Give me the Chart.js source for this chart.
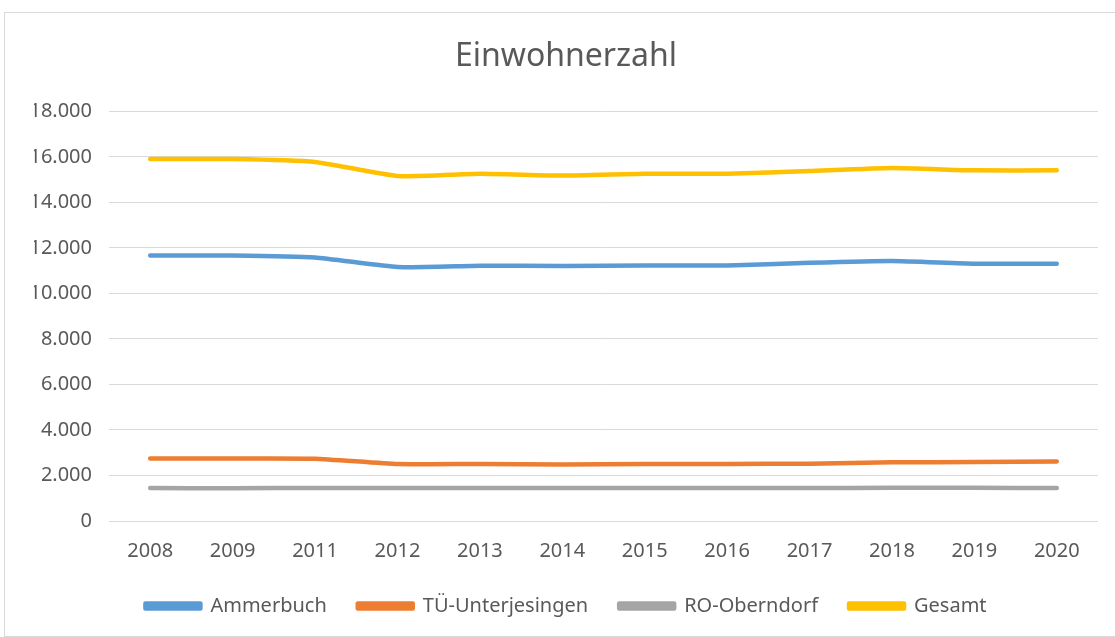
<!DOCTYPE html>
<html lang="de">
<head>
  <meta charset="utf-8">
  <title>Einwohnerzahl</title>
  <script src="https://cdn.jsdelivr.net/npm/chart.js"></script>
  <style>
    html, body {
      margin: 0;
      padding: 0;
      background: #fff;
      overflow: hidden;
    }

    .frame {
      position: absolute;
      left: 4px;
      top: 12px;
      width: 1200px;
      height: 623px;
      border: 1px solid #d9d9d9;
    }

    #chart {
      position: absolute;
      left: 0;
      top: 0;
    }
  </style>
</head>
<body>

<div class="frame"></div>
<canvas id="chart" width="1115" height="637"></canvas>

<script>
  // Jahre (2010 fehlt in der Vorlage)
  const years = ['2008', '2009', '2011', '2012', '2013', '2014', '2015', '2016', '2017', '2018', '2019', '2020'];

  const ammerbuch = [11670, 11670, 11580, 11160, 11220, 11210, 11230, 11230, 11350, 11430, 11310, 11310];
  const unterjesingen = [2750, 2750, 2740, 2500, 2510, 2480, 2500, 2510, 2520, 2580, 2590, 2620];
  const oberndorf = [1450, 1440, 1450, 1450, 1450, 1450, 1450, 1450, 1450, 1460, 1460, 1450];
  const gesamt = [15910, 15910, 15780, 15160, 15260, 15180, 15260, 15260, 15380, 15510, 15410, 15410];

  const yTicks = [0, 2000, 4000, 6000, 8000, 10000, 12000, 14000, 16000, 18000];

  const txt = '#595959';
  const grid = '#d9d9d9';

  function fmt(v) {
    return String(v).replace(/\B(?=(\d{3})+(?!\d))/g, '.');
  }

  function line(label, data, color) {
    return {
      label: label,
      data: data,
      borderColor: color,
      backgroundColor: color,
      borderWidth: 4.5,
      borderCapStyle: 'round',
      borderJoinStyle: 'round',
      pointRadius: 0,
      pointHoverRadius: 0,
      tension: 0.15,
      fill: false
    };
  }

  Chart.defaults.font.family = "'Noto Sans', sans-serif";
  Chart.defaults.color = txt;

  new Chart(document.getElementById('chart'), {
    type: 'line',
    data: {
      labels: years,
      datasets: [
        line('Ammerbuch', ammerbuch, '#5b9bd5'),
        line('TÜ-Unterjesingen', unterjesingen, '#ed7d31'),
        line('RO-Oberndorf', oberndorf, '#a5a5a5'),
        line('Gesamt', gesamt, '#ffc000')
      ]
    },
    options: {
      responsive: false,
      animation: false,
      devicePixelRatio: 1,
      layout: {
        padding: { top: 12, right: 17, bottom: 11, left: 34 }
      },
      plugins: {
        title: {
          display: true,
          text: 'Einwohnerzahl',
          color: txt,
          font: { size: 32, weight: 'normal' },
          padding: { top: 26, bottom: 35 }
        },
        legend: {
          position: 'bottom',
          labels: {
            color: txt,
            font: { size: 20 },
            boxWidth: 55,
            boxHeight: 5,
            padding: 31
          }
        },
        tooltip: { enabled: false }
      },
      scales: {
        x: {
          offset: true,
          grid: { display: false, drawTicks: false },
          border: { display: false },
          ticks: { color: txt, font: { size: 20 }, padding: 18, maxRotation: 0, autoSkip: false },
          afterFit: function (s) { s.height = 44; }
        },
        y: {
          min: 0,
          max: 18000,
          afterBuildTicks: function (s) {
            s.ticks = yTicks.map(v => ({ value: v }));
          },
          grid: { color: grid, lineWidth: 1, drawTicks: false },
          border: { display: false },
          ticks: {
            color: txt,
            font: { size: 20 },
            padding: 17,
            callback: v => fmt(v)
          },
          afterFit: function (s) { s.width = 75; }
        }
      }
    }
  });
</script>

</body>
</html>
